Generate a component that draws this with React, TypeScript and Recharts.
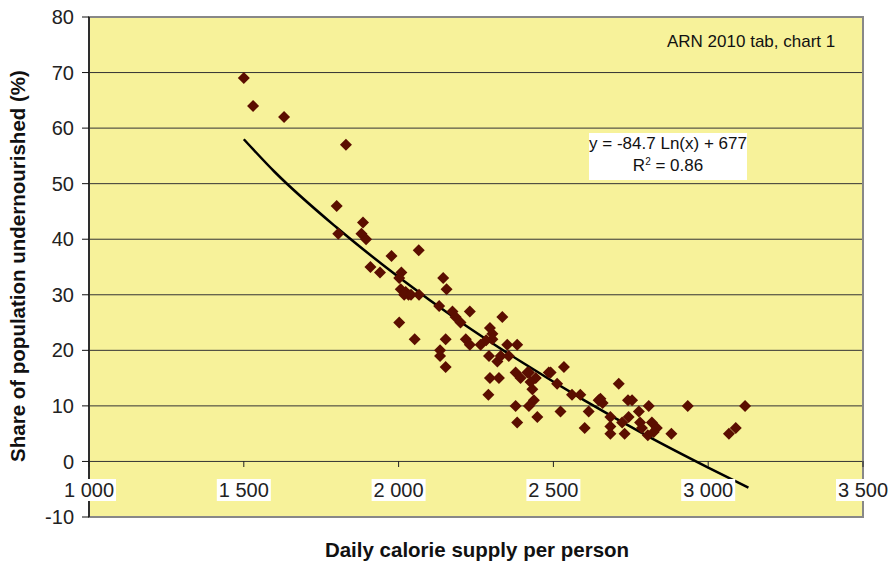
import React from "react";
import { ComposedChart, Scatter, Line, XAxis, YAxis, CartesianGrid, ReferenceArea } from "recharts";

const calories = [
  1500, 1530, 1630, 1830, 1800, 1885, 1805, 1880, 1895, 1977, 2065, 1909, 1940, 2009, 2002,
  2144, 2155, 2007, 2023, 2032, 2018, 2066, 2040, 2131, 2174, 2230, 2184, 2200, 2335, 2002,
  2052, 2152, 2217, 2230, 2265, 2295, 2303, 2303, 2283, 2351, 2383, 2134, 2134, 2152, 2292,
  2319, 2330, 2295, 2324, 2290, 2356, 2378, 2394, 2421, 2443, 2485, 2491, 2534, 2512, 2432,
  2437, 2421, 2378, 2448, 2383, 2523, 2560, 2587, 2614, 2601, 2646, 2659, 2711, 2684, 2684,
  2741, 2652, 2754, 2808, 2934, 3119, 2776, 2743, 2722, 2780, 2818, 2786, 2834, 2824, 2684,
  2730, 2805, 2881, 3067, 3089, 2426, 2416,
];
const undernourished = [
  69, 64, 62, 57, 46, 43, 41, 41, 40, 37, 38, 35, 34, 34, 33,
  33, 31, 31, 30.5, 30, 30, 30, 30, 28, 27, 27, 26, 25, 26, 25,
  22, 22, 22, 21, 21, 24, 23, 22, 21.8, 21, 21, 20, 19, 17, 19,
  18, 19, 15, 15, 12, 19, 16, 15, 16, 15, 16, 16, 17, 14, 13,
  11, 10, 10, 8, 7, 9, 12, 12, 9, 6, 11, 10.5, 14, 8, 6.3,
  11, 11.3, 11, 10, 10, 10, 9, 8, 7, 7, 7, 6, 6, 5.3, 5,
  5, 4.7, 5, 5, 6, 14.3, 16,
];

// trend line
const trendCalories = [1500, 1600, 1800, 2000, 2200, 2400, 2600, 2800, 3000, 3130];
const trendShare = [58.0, 52.1, 42.1, 33.2, 25.1, 17.8, 11.0, 4.7, -1.1, -4.7];

const xTicks = [1000, 1500, 2000, 2500, 3000, 3500];
const xTickLabels = ["1 000", "1 500", "2 000", "2 500", "3 000", "3 500"];
const yTicks = [-10, 0, 10, 20, 30, 40, 50, 60, 70, 80];

const points = calories.map((c, i) => ({ x: c, y: undernourished[i] }));
const trend = trendCalories.map((c, i) => ({ x: c, y: trendShare[i] }));

const font = "'Liberation Sans', Arial, sans-serif";

const Diamond = (props: any) => {
  const { cx, cy } = props;
  const r = 6;
  return (
    <polygon
      points={`${cx},${cy - r} ${cx + r},${cy} ${cx},${cy + r} ${cx - r},${cy}`}
      fill="#5B0E00"
    />
  );
};

const XTick = (props: any) => {
  const { x, y, payload } = props;
  const label = xTickLabels[xTicks.indexOf(payload.value)];
  const zeroY = y - 56;
  return (
    <g>
      <line x1={x} x2={x} y1={zeroY} y2={zeroY + 6} stroke="#222" />
      <rect x={x - 27} y={y - 38} width={54} height={22} fill="#fff" />
      <text x={x} y={y - 27} textAnchor="middle" dominantBaseline="central" fontSize={20} fill="#222" fontFamily={font}>
        {label}
      </text>
    </g>
  );
};

const App: React.FC = () => {
  return (
    <div style={{ position: "absolute", left: 0, top: 0, width: 892, height: 565, background: "#fff", fontFamily: font }}>
      <ComposedChart width={892} height={565} margin={{ top: 17, right: 29, left: 29, bottom: 28 }}>
        <CartesianGrid vertical={false} stroke="#333" fill="#F7F29A" />
        <XAxis
          type="number"
          dataKey="x"
          domain={[1000, 3500]}
          ticks={xTicks}
          axisLine={false}
          tickLine={false}
          tickSize={0}
          tickMargin={0}
          height={20}
          tick={<XTick />}
          interval={0}
        />
        <YAxis
          type="number"
          domain={[-10, 80]}
          ticks={yTicks}
          width={60}
          interval={0}
          axisLine={{ stroke: "#111", strokeWidth: 1.5 }}
          tickLine={{ stroke: "#111" }}
          tickSize={7}
          tickMargin={8}
          tick={{ fontSize: 20, fill: "#222", fontFamily: font }}
        />
        <ReferenceArea x1={1000} x2={3500} y1={-10} y2={80} fill="none" stroke="#888" strokeWidth={2} />
        <Line
          data={trend}
          dataKey="y"
          type="monotone"
          stroke="#000"
          strokeWidth={2.5}
          dot={false}
          isAnimationActive={false}
        />
        <Scatter data={points} dataKey="y" shape={<Diamond />} isAnimationActive={false} />
      </ComposedChart>

      <div
        style={{
          position: "absolute",
          left: 18 - 250,
          top: 266 - 12,
          width: 500,
          height: 24,
          lineHeight: "24px",
          textAlign: "center",
          transform: "rotate(-90deg)",
          fontWeight: "bold",
          fontSize: 20.5,
          color: "#111",
        }}
      >
        Share of population undernourished (%)
      </div>
      <div
        style={{
          position: "absolute",
          left: 477 - 250,
          top: 538,
          width: 500,
          textAlign: "center",
          fontWeight: "bold",
          fontSize: 20.5,
          color: "#111",
        }}
      >
        Daily calorie supply per person
      </div>
      <div style={{ position: "absolute", left: 667, top: 32, fontSize: 17, color: "#111", whiteSpace: "nowrap" }}>
        ARN 2010 tab, chart 1
      </div>
      <div
        style={{
          position: "absolute",
          left: 589,
          top: 133,
          width: 158,
          height: 47,
          background: "#fff",
          fontSize: 17,
          color: "#111",
          textAlign: "center",
          lineHeight: "22px",
          whiteSpace: "nowrap",
        }}
      >
        <div>y = -84.7 Ln(x) + 677</div>
        <div>
          R<sup style={{ fontSize: 10, verticalAlign: "top", lineHeight: "14px" }}>2</sup> = 0.86
        </div>
      </div>
    </div>
  );
};

export default App;
